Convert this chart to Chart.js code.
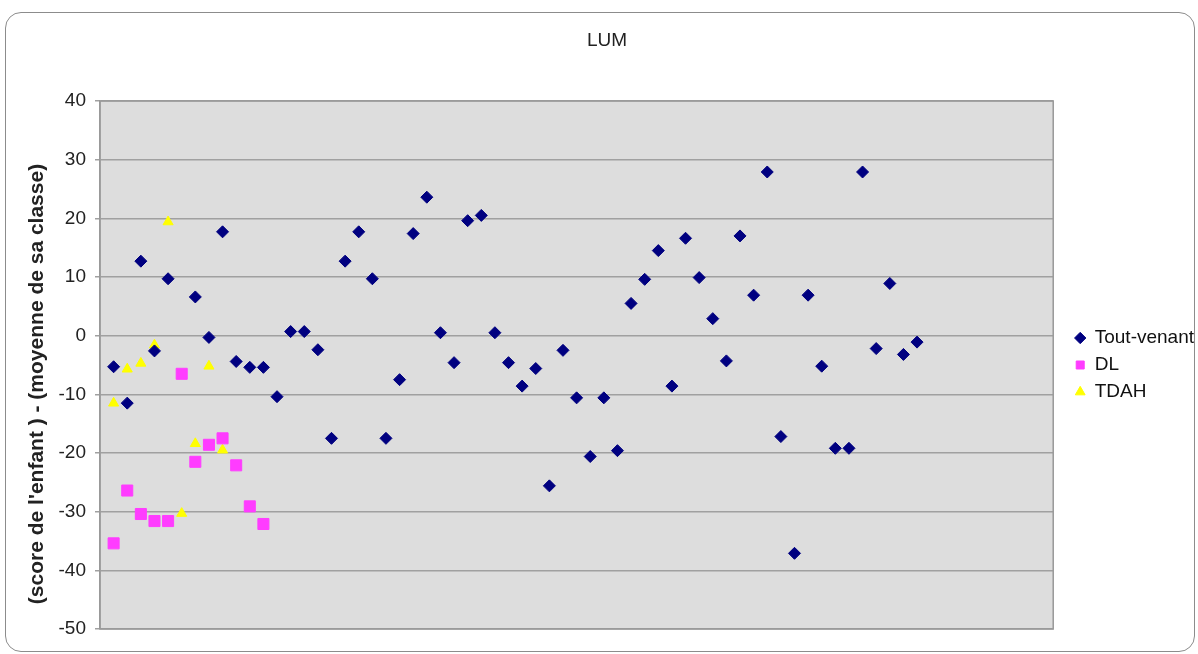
<!DOCTYPE html>
<html>
<head>
<meta charset="utf-8">
<script src="https://cdn.jsdelivr.net/npm/chart.js@4.4.1/dist/chart.umd.min.js"></script>
<style>
  html, body { margin: 0; padding: 0; background: #fff; }
  #wrap { position: relative; width: 1198px; height: 654px; overflow: hidden; }
  #frame { position: absolute; left: 5px; top: 12px; width: 1188px; height: 638px;
           border: 1px solid #8c8c8c; border-radius: 16px; }
  #chart { position: absolute; left: 0; top: 0; }
</style>
</head>
<body>
<div id="wrap">
  <div id="frame"></div>
  <canvas id="chart" width="1198" height="654"></canvas>
</div>
<script>
// valeurs (x = rang de l'élève, 1..n)
const toutVenant = [-5.3, -11.5, 12.7, -2.6, 9.7, null, 6.6, -0.3, 17.7, -4.4,
  -5.4, -5.4, -10.4, 0.7, 0.7, -2.4, -17.5, 12.7, 17.7, 9.7,
  -17.5, -7.5, 17.4, 23.6, 0.5, -4.6, 19.6, 20.5, 0.5, -4.6,
  -8.6, -5.6, -25.6, -2.5, -10.6, -20.6, -10.6, -19.6, 5.5, 9.6,
  14.5, -8.6, 16.6, 9.9, 2.9, -4.3, 17.0, 6.9, 27.9, -17.2,
  -37.1, 6.9, -5.2, -19.2, -19.2, 27.9, -2.2, 8.9, -3.2, -1.1];
const dl = [-35.4, -26.4, -30.4, -31.6, -31.6, -6.5, -21.5, -18.6, -17.5, -22.1, -29.1, -32.1];
const tdah = [-11.5, -5.7, -4.7, -1.6, 19.4, -30.3, -18.4, -5.2, -19.5];

const seriesNames = ['Tout-venant', 'DL', 'TDAH'];
const yTicks = { min: -50, max: 40, step: 10 };
const xRange = { min: 0, max: 70 };

function toPoints(values) {
  return values
    .map((v, i) => ({ x: i + 1, y: v }))
    .filter(p => p.y !== null);
}

Chart.defaults.font.family = "'Liberation Sans', Arial, sans-serif";
Chart.defaults.color = '#222';

// fond gris + cadre de la zone de tracé
const plotArea = {
  id: 'plotArea',
  beforeDraw(chart) {
    const { ctx, chartArea: a } = chart;
    ctx.save();
    ctx.fillStyle = '#dddddd';
    ctx.fillRect(a.left, a.top, a.right - a.left, a.bottom - a.top);
    ctx.restore();
  },
  beforeDatasetsDraw(chart) {
    const { ctx, chartArea: a } = chart;
    ctx.save();
    ctx.strokeStyle = '#999';
    ctx.lineWidth = 1.5;
    ctx.strokeRect(a.left, a.top, a.right - a.left, a.bottom - a.top);
    ctx.restore();
  }
};

// titre de l'axe vertical
const yTitle = {
  id: 'yTitle',
  afterDraw(chart) {
    const ctx = chart.ctx;
    ctx.save();
    ctx.translate(37, 384);
    ctx.rotate(-Math.PI / 2);
    ctx.font = "bold 21px 'Liberation Sans', Arial, sans-serif";
    ctx.fillStyle = '#222';
    ctx.textAlign = 'center';
    ctx.textBaseline = 'middle';
    ctx.fillText("(score de l'enfant ) - (moyenne de sa classe)", 0, 0);
    ctx.restore();
  }
};

const ctx = document.getElementById('chart').getContext('2d');
new Chart(ctx, {
  type: 'scatter',
  data: {
    datasets: [
      {
        label: seriesNames[0],
        data: toPoints(toutVenant),
        pointStyle: 'rectRot',
        pointRadius: 6,
        backgroundColor: '#000080',
        borderColor: '#000080',
        borderWidth: 1
      },
      {
        label: seriesNames[1],
        data: toPoints(dl),
        pointStyle: 'rect',
        pointRadius: 7.8,
        backgroundColor: '#ff3cff',
        borderColor: '#ff3cff',
        borderWidth: 1
      },
      {
        label: seriesNames[2],
        data: toPoints(tdah),
        pointStyle: 'triangle',
        pointRadius: 5.8,
        backgroundColor: '#ffff00',
        borderColor: '#ffff00',
        borderWidth: 1
      }
    ]
  },
  options: {
    responsive: false,
    animation: false,
    layout: {
      padding: { left: 10, right: -6, top: 0, bottom: 25 }
    },
    plugins: {
      title: {
        display: true,
        text: 'LUM',
        color: '#222',
        font: { size: 19, weight: 'normal' },
        padding: { top: 29.6, bottom: 48.6 }
      },
      legend: {
        position: 'right',
        fullSize: false,
        labels: {
          usePointStyle: true,
          boxWidth: 10,
          boxHeight: 8,
          padding: 8,
          color: '#111',
          font: { size: 19 }
        }
      },
      tooltip: { enabled: false }
    },
    scales: {
      x: {
        type: 'linear',
        min: xRange.min,
        max: xRange.max,
        display: false
      },
      y: {
        min: yTicks.min,
        max: yTicks.max,
        afterFit(scale) { scale.width = 90; },
        ticks: {
          stepSize: yTicks.step,
          padding: 9,
          color: '#222',
          font: { size: 19 }
        },
        grid: {
          color: '#a0a0a0',
          lineWidth: 1.5,
          tickLength: 5
        },
        border: { color: '#999', width: 1.5 }
      },
      gap: {
        type: 'linear',
        position: 'right',
        display: true,
        afterFit(scale) { scale.width = 14; },
        ticks: { display: false },
        grid: { display: false },
        border: { display: false }
      }
    }
  },
  plugins: [plotArea, yTitle]
});
</script>
</body>
</html>
